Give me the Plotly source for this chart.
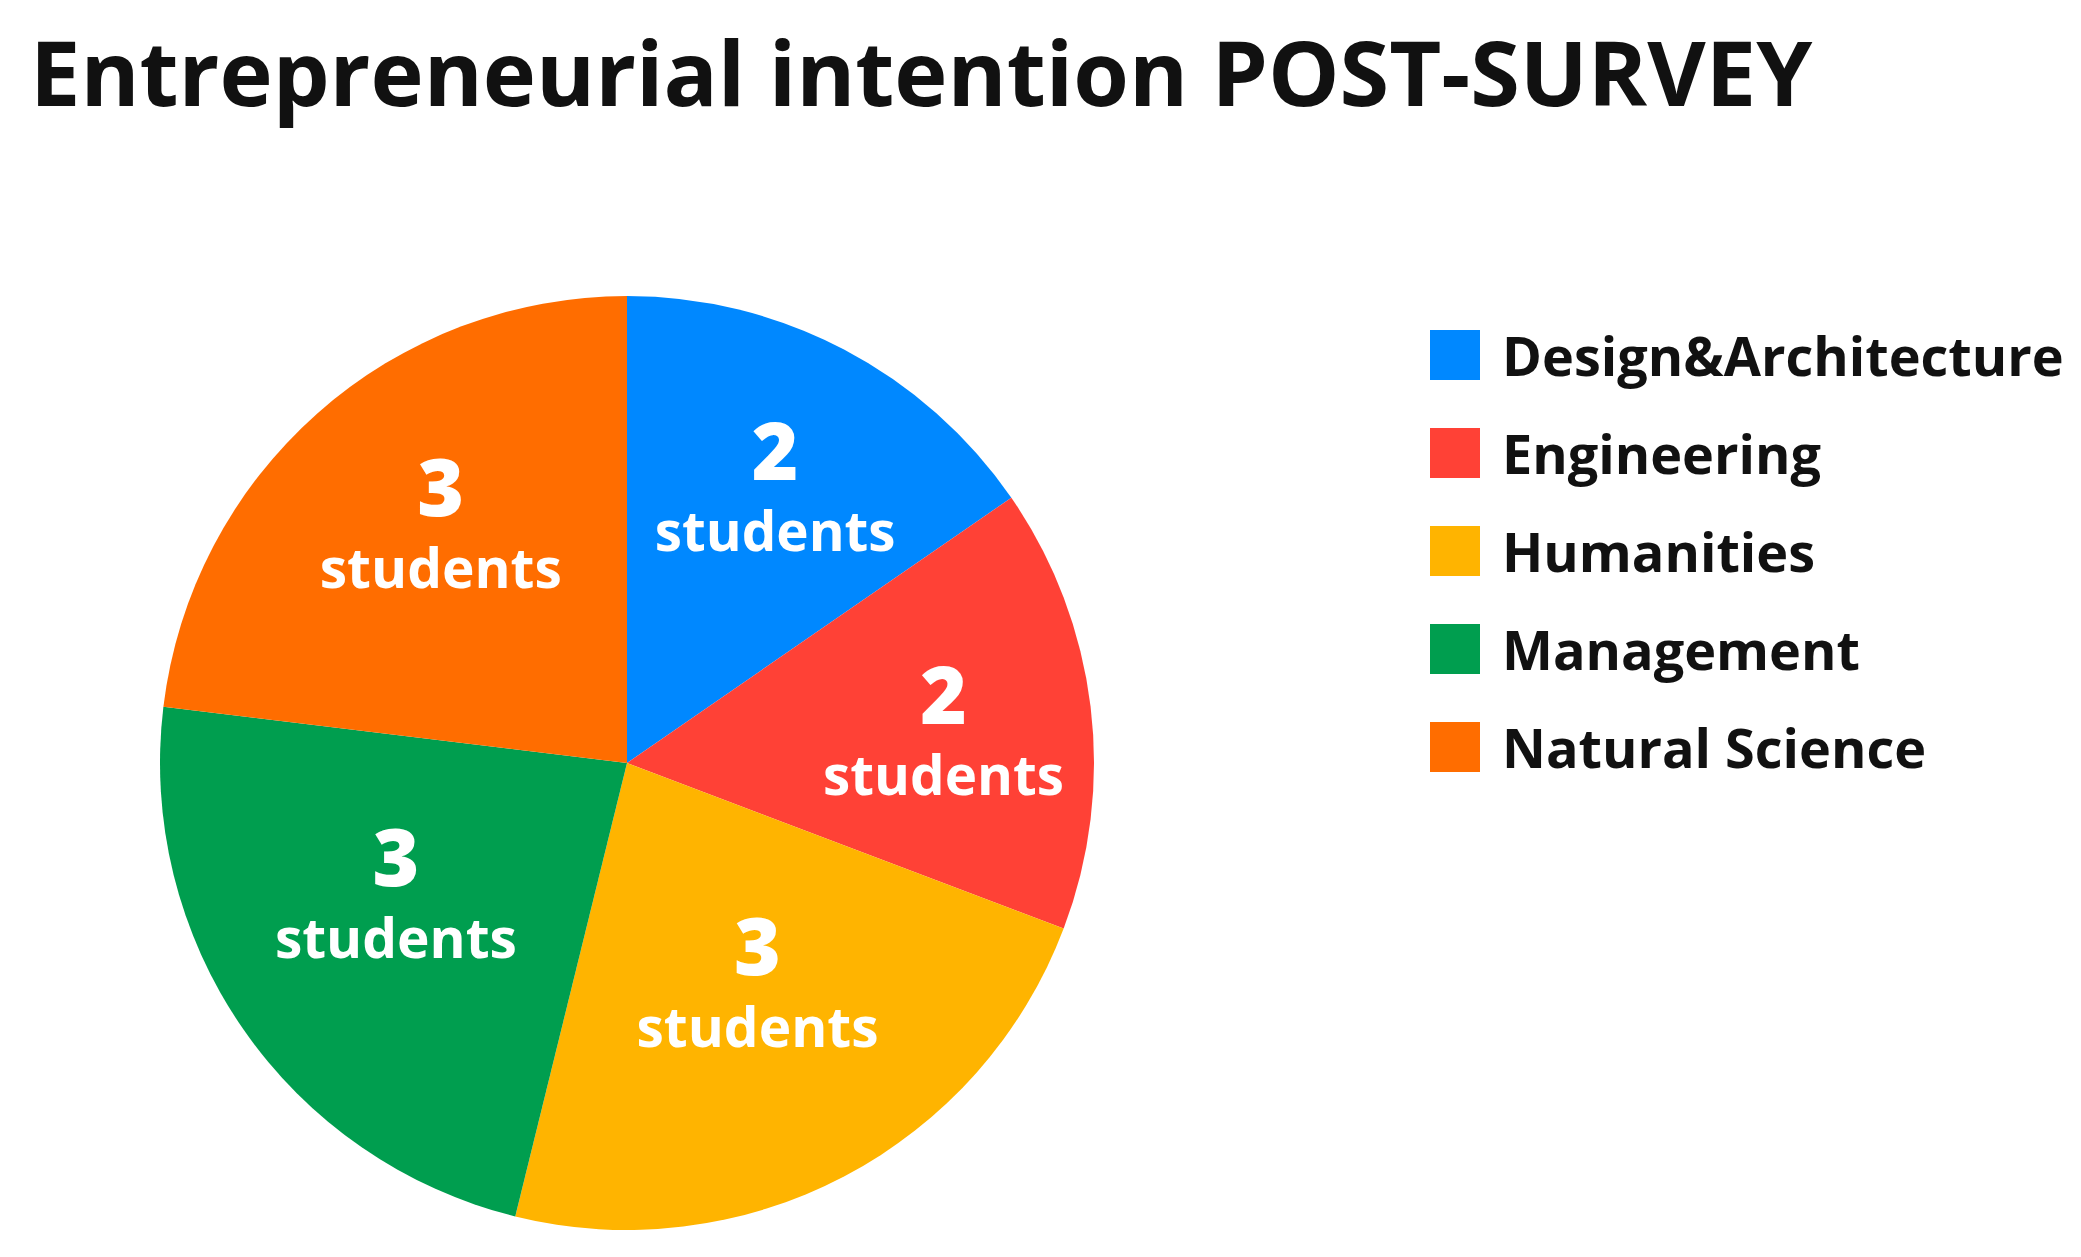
import plotly.graph_objects as go

# Data
faculties = ["Design&Architecture", "Engineering", "Humanities", "Management", "Natural Science"]
students = [2, 2, 3, 3, 3]
colors = ["#0088FF", "#FF4136", "#FFB400", "#009E4F", "#FF6D00"]

W, H = 2081, 1257
FONT = "Open Sans"

# the wider slices get a blank line under the label so it sits a bit higher
label_tpl = "<span style='font-size:80px;font-weight:800'>%{value}</span><br>students"
templates = [label_tpl + ("<br>&nbsp;" if v > 2 else "") for v in students]

fig = go.Figure(
    go.Pie(
        labels=faculties,
        values=students,
        sort=False,
        direction="clockwise",
        rotation=0,
        marker=dict(colors=colors, line=dict(width=0)),
        texttemplate=templates,
        textposition="inside",
        insidetextorientation="horizontal",
        textfont=dict(family=FONT, size=55, color="white", weight="bold"),
        hoverinfo="skip",
        showlegend=False,
        domain=dict(x=[152 / W, 1086 / W], y=[35 / H, 969 / H]),
    )
)

# hand-drawn legend with big square swatches
shapes = []
annotations = []
for i, (name, col) in enumerate(zip(faculties, colors)):
    yc = 347 + i * 98
    shapes.append(
        dict(
            type="rect", xref="paper", yref="paper",
            x0=1422 / W, x1=1472 / W,
            y0=1 - (yc + 25) / H, y1=1 - (yc - 25) / H,
            fillcolor=col, line=dict(width=0),
        )
    )
    annotations.append(
        dict(
            text=name, xref="paper", yref="paper",
            x=1492 / W, y=1 - yc / H, xanchor="left", yanchor="middle",
            showarrow=False,
            font=dict(family=FONT, size=54, color="#111111", weight="bold"),
        )
    )

annotations.append(
    dict(
        text="Entrepreneurial intention POST-SURVEY",
        xref="paper", yref="paper", x=20 / W, y=1,
        xanchor="left", yanchor="top", showarrow=False,
        font=dict(family=FONT, size=90, color="#111111", weight="bold"),
    )
)

fig.update_layout(
    width=W, height=H,
    margin=dict(l=0, r=0, t=0, b=0),
    paper_bgcolor="white",
    plot_bgcolor="white",
    shapes=shapes,
    annotations=annotations,
)

fig.write_html("out.html")
